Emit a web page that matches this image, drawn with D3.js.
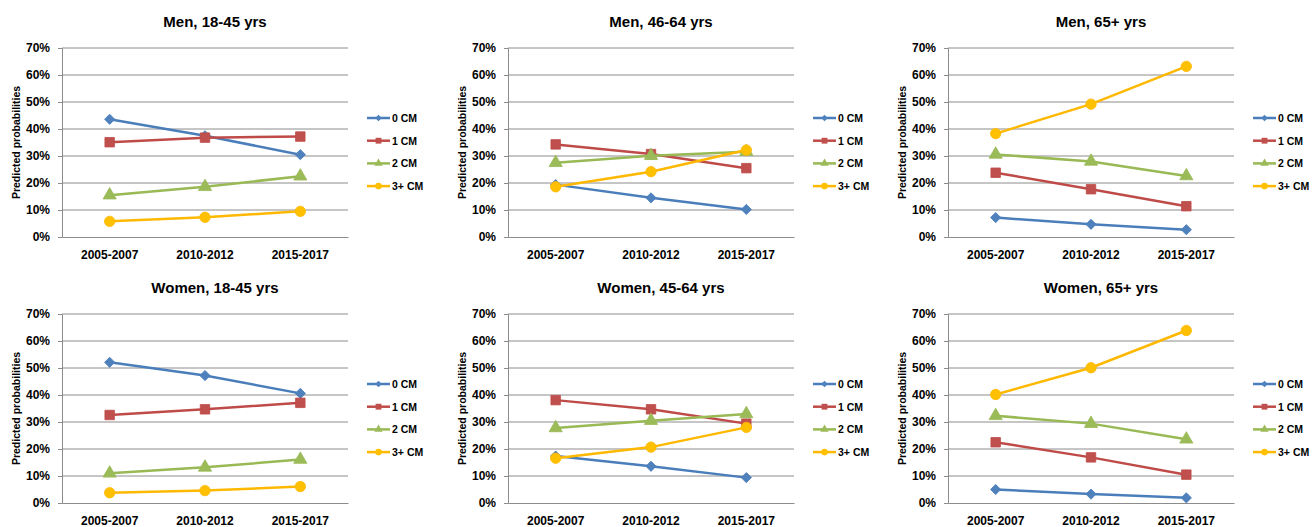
<!DOCTYPE html>
<html>
<head>
<meta charset="utf-8">
<script src="https://cdn.jsdelivr.net/npm/d3@7"></script>
<style>
  body { margin: 0; background: #fff; }
  svg text { font-family: "Liberation Sans", Arial, sans-serif; font-weight: bold; fill: #000; }
</style>
</head>
<body>
<svg id="chart"></svg>
<script>
// categories and series
var periods = ['2005-2007', '2010-2012', '2015-2017'];
var seriesNames = ['0 CM', '1 CM', '2 CM', '3+ CM'];
var yTicks = [0, 0.1, 0.2, 0.3, 0.4, 0.5, 0.6, 0.7];
var panelTitles = ['Men, 18-45 yrs', 'Men, 46-64 yrs', 'Men, 65+ yrs',
                   'Women, 18-45 yrs', 'Women, 45-64 yrs', 'Women, 65+ yrs'];

// predicted probabilities, one row per series (0, 1, 2, 3+ CM)
var men1845 = [[0.436, 0.375, 0.305], [0.351, 0.368, 0.372], [0.155, 0.186, 0.225], [0.058, 0.073, 0.095]];
var men4664 = [[0.194, 0.145, 0.102], [0.343, 0.307, 0.255], [0.275, 0.301, 0.316], [0.186, 0.242, 0.322]];
var men65   = [[0.072, 0.047, 0.027], [0.238, 0.177, 0.114], [0.306, 0.280, 0.226], [0.383, 0.492, 0.632]];
var women1845 = [[0.521, 0.472, 0.406], [0.326, 0.347, 0.371], [0.110, 0.132, 0.161], [0.038, 0.046, 0.061]];
var women4564 = [[0.174, 0.136, 0.094], [0.381, 0.347, 0.294], [0.278, 0.305, 0.330], [0.166, 0.207, 0.280]];
var women65   = [[0.050, 0.033, 0.019], [0.225, 0.169, 0.105], [0.323, 0.294, 0.236], [0.402, 0.501, 0.639]];

var panelData = [men1845, men4664, men65, women1845, women4564, women65];

var lineColors = ['#4A7EBB', '#BE4B48', '#98B954', '#FFB800'];
var fillColors = ['#4F81BD', '#C0504D', '#9BBB59', '#FFC000'];
// diamond is a square turned 45 degrees, like Excel's
var shapes = [d3.symbolSquare, d3.symbolSquare, d3.symbolTriangle, d3.symbolCircle];
var turns = [45, 0, 0, 0];
var markerSizes = [52, 90, 75, 85];
var legendSizes = [22, 34, 30, 34];

var width = 1312,
    height = 527,
    svg = d3.select('#chart').attr('width', width).attr('height', height);

var lefts = [62, 508, 948],
    tops = [48, 314],
    plotW = 286,
    plotH = 189;

panelData.forEach(function (rows, p) {
    var col = p % 3,
        row = Math.floor(p / 3),
        g = svg.append('g').attr('transform', 'translate(' + lefts[col] + ',' + tops[row] + ')');

    var x = d3.scaleBand().domain(periods).range([0, plotW]),
        y = d3.scaleLinear().domain([0, 0.7]).range([plotH, 0]);

    // gridlines
    g.selectAll('.grid').data(yTicks.slice(1)).enter().append('line')
        .attr('x1', 0).attr('x2', plotW)
        .attr('y1', function (d) { return y(d); })
        .attr('y2', function (d) { return y(d); })
        .attr('stroke', '#8c8c8c').attr('stroke-width', 1);

    // y axis
    var yAxis = g.append('g').call(d3.axisLeft(y).tickValues(yTicks).tickFormat(d3.format('.0%')).tickSize(4).tickPadding(8));
    yAxis.select('.domain').attr('stroke', '#8c8c8c');
    yAxis.selectAll('.tick line').attr('stroke', '#8c8c8c');
    yAxis.selectAll('text').style('font-size', '12px').style('font-family', '"Liberation Sans", Arial, sans-serif');

    // x axis
    var xAxis = g.append('g').attr('transform', 'translate(0,' + plotH + ')')
        .call(d3.axisBottom(x).tickSize(0).tickPadding(13));
    xAxis.select('.domain').attr('stroke', '#8c8c8c');
    xAxis.selectAll('text').style('font-size', '12px').style('font-family', '"Liberation Sans", Arial, sans-serif');

    // title
    g.append('text')
        .attr('x', plotW / 2 + 10).attr('y', -21)
        .attr('text-anchor', 'middle')
        .style('font-size', '15px')
        .text(panelTitles[p]);

    // y axis title
    g.append('text')
        .attr('transform', 'translate(' + (-42) + ',' + (plotH / 2) + ') rotate(-90)')
        .attr('text-anchor', 'middle')
        .style('font-size', '10.5px')
        .text('Predicted probabilities');

    var line = d3.line()
        .x(function (d, i) { return x(periods[i]) + x.bandwidth() / 2; })
        .y(function (d) { return y(d); });

    rows.forEach(function (vals, s) {
        g.append('path')
            .attr('d', line(vals))
            .attr('fill', 'none')
            .attr('stroke', lineColors[s])
            .attr('stroke-width', 2.5);

        g.selectAll('.m' + s).data(vals).enter().append('path')
            .attr('d', d3.symbol().type(shapes[s]).size(markerSizes[s]))
            .attr('transform', function (d, i) {
                return 'translate(' + (x(periods[i]) + x.bandwidth() / 2) + ',' + y(d) + ') rotate(' + turns[s] + ')';
            })
            .attr('fill', fillColors[s])
            .attr('stroke', lineColors[s])
            .attr('stroke-width', 0.8);
    });

    // legend
    var legend = g.append('g').attr('transform', 'translate(' + (plotW + 19) + ',70)');
    seriesNames.forEach(function (name, s) {
        var item = legend.append('g').attr('transform', 'translate(0,' + (s * 22.7) + ')');
        item.append('line')
            .attr('x1', 0).attr('x2', 23)
            .attr('stroke', lineColors[s]).attr('stroke-width', 2.5);
        item.append('path')
            .attr('d', d3.symbol().type(shapes[s]).size(legendSizes[s]))
            .attr('transform', 'translate(11.5,0) rotate(' + turns[s] + ')')
            .attr('fill', fillColors[s]);
        item.append('text')
            .attr('x', 25).attr('y', 4)
            .style('font-size', '10.5px')
            .text(name);
    });
});
</script>
</body>
</html>
